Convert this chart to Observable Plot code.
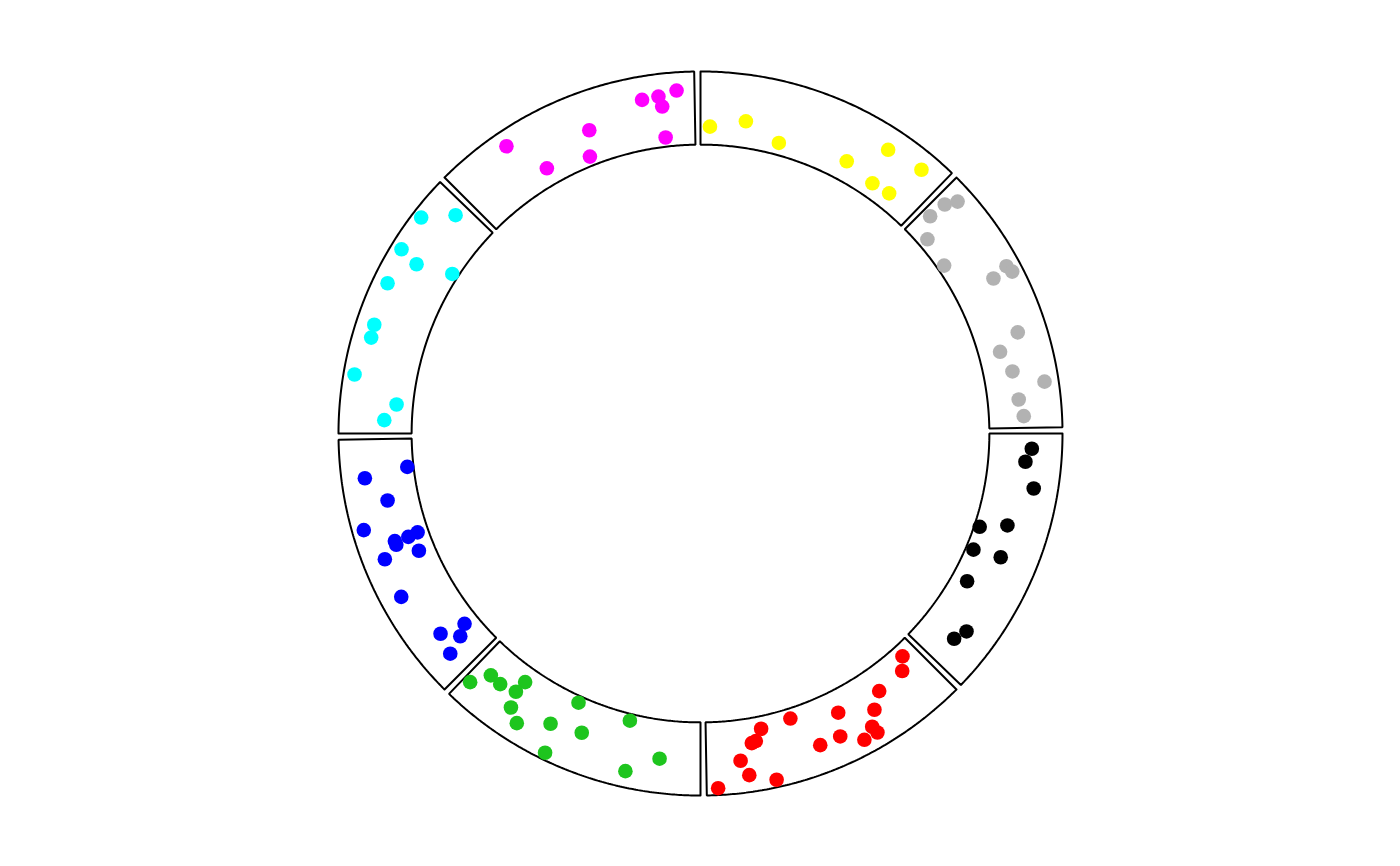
<!DOCTYPE html>
<html><head><meta charset="utf-8">
<script src="https://cdn.jsdelivr.net/npm/d3@7"></script>
<script src="https://cdn.jsdelivr.net/npm/@observablehq/plot@0.6"></script>
<style>html,body{margin:0;padding:0;background:#fff;overflow:hidden}</style>
</head><body><div id="chart"></div>
<script>
// Sectors (clockwise from 3 o'clock) and their point colours
const sectors = ["a","b","c","d","e","f","g","h"];
const sectorColors = ["black","red","#1EC51E","blue","cyan","magenta","yellow","#B2B2B2"];

// Point values per sector: x = position along sector (0..1, clockwise), y = position across track (0..1, inner to outer)
const xA = [0.060,0.113,0.213,0.420,0.379,0.524,0.509,0.659,0.833,0.886];
const yA = [0.585,0.510,0.668,0.075,0.431,0.106,0.490,0.218,0.584,0.512];
const xB = [0.064,0.106,0.233,0.291,0.426,0.625,0.759,0.791,0.809,0.460,0.545,0.383,0.333,0.327,0.864,0.838,0.741,0.958];
const yB = [0.163,0.311,0.337,0.514,0.307,0.137,0.171,0.323,0.341,0.612,0.615,0.800,0.697,0.801,0.558,0.769,0.898,0.906];
const xC = [0.973,0.930,0.878,0.800,0.808,0.788,0.736,0.621,0.554,0.492,0.314,0.590,0.163,0.285];
const yC = [0.685,0.427,0.437,0.210,0.391,0.606,0.740,0.517,0.091,0.452,0.094,0.905,0.532,0.780];
const xD = [0.875,0.850,0.748,0.659,0.585,0.580,0.582,0.566,0.509,0.529,0.372,0.139,0.168,0.110,0.083];
const yD = [0.085,0.680,0.426,0.840,0.148,0.288,0.481,0.479,0.221,0.696,0.712,0.195,0.537,0.348,0.608];
const xE = [0.857,0.948,0.719,0.700,0.744,0.583,0.419,0.369,0.220,0.124,0.055];
const yE = [0.878,0.536,0.852,0.570,0.085,0.797,0.752,0.740,0.849,0.225,0.378];
const xF = [0.932,0.861,0.797,0.871,0.870,0.565,0.528,0.249,0.339];
const yF = [0.751,0.693,0.682,0.551,0.125,0.467,0.127,0.790,0.241];
const xG = [0.040,0.188,0.343,0.642,0.761,0.908,0.784,0.867];
const yG = [0.248,0.364,0.165,0.275,0.701,0.755,0.201,0.226];
const xH = [0.067,0.042,0.036,0.101,0.237,0.389,0.371,0.399,0.621,0.676,0.767,0.828,0.884,0.953];
const yH = [0.784,0.628,0.373,0.134,0.096,0.582,0.818,0.853,0.603,0.296,0.399,0.807,0.426,0.477];

const xs = [xA,xB,xC,xD,xE,xF,xG,xH];
const ys = [yA,yB,yC,yD,yE,yF,yG,yH];

// Layout (circlize-like canvas units)
const GAP = 1;                                   // degrees between sectors
const SPAN = (360 - GAP * sectors.length) / sectors.length; // 44 degrees
const R_OUT = 0.99, R_IN = 0.79;
const W = 1400, H = 866, PX = 365.66;

const polar = (deg, r) => {
  const a = -deg * Math.PI / 180;
  return [r * Math.cos(a), r * Math.sin(a)];
};

// Points table
const points = [];
sectors.forEach((s, i) => {
  xs[i].forEach((xv, j) => {
    const deg = i * (SPAN + GAP) + xv * SPAN;
    const r = R_IN + ys[i][j] * (R_OUT - R_IN);
    const [px, py] = polar(deg, r);
    points.push({sector: s, px, py, color: sectorColors[i]});
  });
});

// Sector borders
const borders = [];
const N = 120;
sectors.forEach((s, i) => {
  const start = i * (SPAN + GAP), end = start + SPAN;
  const ring = [];
  for (let k = 0; k <= N; k++) ring.push(polar(start + (end - start) * k / N, R_OUT));
  for (let k = N; k >= 0; k--) ring.push(polar(start + (end - start) * k / N, R_IN));
  ring.push(ring[0]);
  ring.forEach(([px, py]) => borders.push({sector: s, px, py}));
});

const chart = Plot.plot({
  width: W, height: H,
  margin: 0,
  x: {domain: [-W / 2 / PX, W / 2 / PX], axis: null},
  y: {domain: [-H / 2 / PX, H / 2 / PX], axis: null},
  marks: [
    Plot.line(borders, {x: "px", y: "py", z: "sector", stroke: "black", strokeWidth: 2, curve: "linear", strokeLinejoin: "miter"}),
    Plot.dot(points, {x: "px", y: "py", r: 7.3, fill: "color", stroke: null})
  ]
});
document.getElementById("chart").appendChild(chart);
</script>
</body></html>
